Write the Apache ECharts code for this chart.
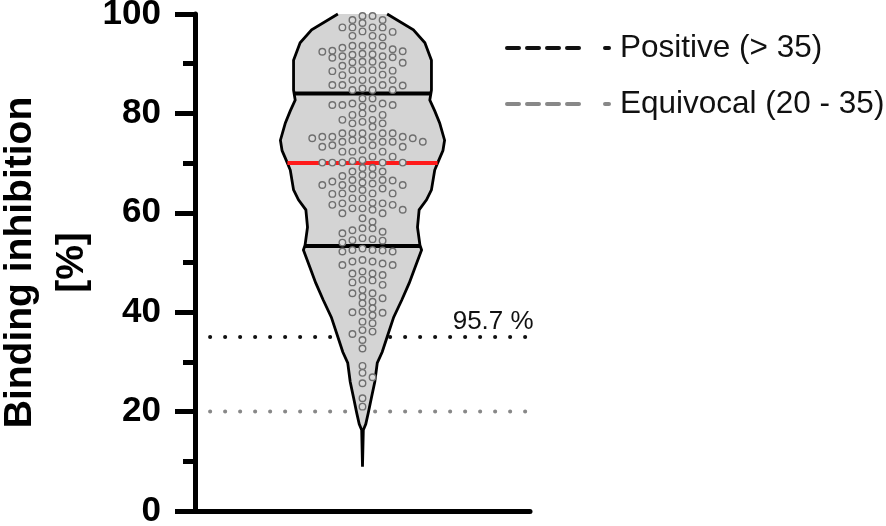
<!DOCTYPE html>
<html>
<head>
<meta charset="utf-8">
<script src="https://cdn.jsdelivr.net/npm/echarts@6/dist/echarts.min.js"></script>
<style>
  html, body { margin: 0; padding: 0; background: #fff; }
  #violin { width: 886px; height: 526px; }
</style>
</head>
<body>
<div id="violin"></div>
<script>
// binding inhibition per sample (%)
var inhibition = [
  99.6, 99.6, 98.8, 98.8, 98.2, 97.3, 97.3, 97.3, 97.3, 96.5, 96.4,
  95.6, 95.6, 95.3, 93.6, 93.6, 93.6, 93.6, 93.2, 92.9, 92.6, 92.5, 92.4,
  92.0, 91.9, 91.8, 91.5, 91.5, 91.3, 91.2, 90.4, 90.4, 90.3, 90.2, 89.7, 89.6,
  88.7, 88.7, 88.7, 88.6, 88.5, 87.8, 87.7, 86.7, 86.7, 86.7, 86.7,
  85.7, 85.7, 85.7, 85.6, 85.0, 84.7, 84.7, 84.7,
  83.0, 83.0, 82.0, 82.0, 81.7, 81.7, 81.7, 81.4, 81.0, 80.0, 79.7, 79.7,
  78.7, 78.7, 78.3, 78.0, 78.0, 77.3, 76.0, 76.0, 76.0, 76.0, 76.0,
  75.3, 75.3, 75.3, 75.3, 75.0, 75.0, 74.6, 74.6, 74.3, 74.3, 74.3, 74.3,
  73.6, 73.6, 73.3, 73.3, 72.6, 72.3, 72.3, 72.3, 71.3, 71.3,
  70.6, 70.4, 70.1, 70.1, 70.1, 70.1, 70.1, 69.0, 69.0, 68.3, 68.3,
  67.6, 67.6, 67.4, 66.6, 66.6, 66.5, 66.3, 66.1, 65.9, 65.6, 65.6, 65.6,
  64.9, 64.9, 64.6, 63.9, 63.9, 63.9, 63.8, 62.9, 62.9,
  62.0, 61.9, 61.9, 61.6, 61.6, 60.9, 60.9, 60.6, 60.6,
  59.9, 59.9, 58.9, 58.2, 56.9, 56.9, 56.5, 56.2, 55.9,
  54.9, 54.7, 54.5, 54.4, 54.0, 52.8, 52.5, 52.5, 52.4, 52.2, 52.2,
  50.5, 50.2, 50.2, 49.8, 49.5, 49.5, 48.2, 47.8, 47.8, 47.5,
  46.5, 46.4, 46.0, 45.5, 44.5, 43.8, 43.8, 43.1, 42.8, 42.1, 41.8,
  40.8, 40.1, 40.0, 39.9, 39.4, 38.1, 37.8, 36.4, 36.1,
  35.6, 34.4, 32.7, 29.2, 27.8, 26.9, 25.7, 22.7, 21.0
];

// violin outline: relative density at each level (1 = widest)
var violinLevels  = [100, 96.8, 94.2, 90.7, 87.5, 84.7, 82.7, 80.5, 78.1, 74.6, 72.5, 70.6, 68.6,
                     64.6, 62.6, 60.6, 57.1, 53.5, 52.5, 49, 45.9, 42.5, 39, 35, 32, 29.8, 26,
                     22.9, 19.7, 17.5, 16.3, 8.9];
var violinDensity = [0.30, 0.62, 0.76, 0.84, 0.84, 0.84, 0.82, 0.88, 0.94, 1.00, 0.98, 0.93, 0.88,
                     0.84, 0.78, 0.69, 0.67, 0.70, 0.72, 0.64, 0.57, 0.48, 0.38, 0.30, 0.24, 0.18, 0.15,
                     0.11, 0.07, 0.04, 0.01, 0];

var quartileLines = [53.3, 84.0];
var medianValue = 70.0;
var positiveCutoff = 35;
var equivocalCutoff = 20;
var positiveLabel = '95.7 %';
var seriesNames = ['Positive (> 35)', 'Equivocal (20 - 35)'];

var FONT = 'Liberation Sans, Arial, sans-serif';
var HALF_WIDTH = 0.49;   // widest half of the violin, x-axis units
var COL_STEP = 0.06;     // swarm column spacing
var ROW_GAP = 1.3;       // min vertical gap inside a column
var LEGEND_DASH = [12, 8, 12, 8, 12, 8, 12, 26, 4, 100];

function densityAt(v) {
  for (var i = 0; i < violinLevels.length - 1; i++) {
    var a = violinLevels[i], b = violinLevels[i + 1];
    if (v <= a && v >= b) {
      var t = (a - v) / (a - b);
      return violinDensity[i] + t * (violinDensity[i + 1] - violinDensity[i]);
    }
  }
  return 0;
}

// simple beeswarm: fill columns 0, +1, -1, +2, -2 ...
function swarm(values) {
  var cols = {}, out = [];
  values.slice().sort(function (a, b) { return b - a; }).forEach(function (v) {
    for (var k = 0; k < 60; k++) {
      var c = k === 0 ? 0 : (k % 2 ? (k + 1) / 2 : -k / 2);
      var col = cols[c] || (cols[c] = []);
      var free = col.every(function (u) { return Math.abs(u - v) >= ROW_GAP; });
      if (free) { col.push(v); out.push([c * COL_STEP, v]); break; }
    }
  });
  return out;
}

function renderViolin(params, api) {
  var right = [], left = [];
  violinLevels.forEach(function (lv, i) {
    var w = violinDensity[i] * HALF_WIDTH;
    right.push(api.coord([w, lv]));
    left.push(api.coord([-w, lv]));
  });
  // outline runs from top-right down to the tail and back up the left
  var outline = right.slice().concat(left.slice().reverse());
  var children = [
    { type: 'polygon', shape: { points: outline }, style: { fill: '#d4d4d4', stroke: null } },
    { type: 'polyline', shape: { points: outline }, style: { fill: null, stroke: '#000', lineWidth: 2.8 } }
  ];
  quartileLines.forEach(function (q) {
    var w = densityAt(q) * HALF_WIDTH;
    var p1 = api.coord([-w, q]), p2 = api.coord([w, q]);
    children.push({ type: 'line', shape: { x1: p1[0], y1: p1[1], x2: p2[0], y2: p2[1] },
      style: { stroke: '#000', lineWidth: 4 } });
  });
  var wm = densityAt(medianValue) * HALF_WIDTH;
  var m1 = api.coord([-wm, medianValue]), m2 = api.coord([wm, medianValue]);
  children.push({ type: 'line', shape: { x1: m1[0], y1: m1[1], x2: m2[0], y2: m2[1] },
    style: { stroke: '#ff1a1a', lineWidth: 4 } });
  return { type: 'group', children: children };
}

var chart = echarts.init(document.getElementById('violin'));
var xStart = -0.91, xEnd = 0.98;

chart.setOption({
  animation: false,
  backgroundColor: '#fff',
  grid: { left: 195, right: 356, top: 14, bottom: 15, containLabel: false, outerBoundsMode: 'none' },
  legend: {
    orient: 'vertical', left: 500, top: 27,
    itemWidth: 102, itemHeight: 10, itemGap: 24,
    textStyle: { fontSize: 31.5, color: '#111', fontFamily: FONT, padding: [0, 0, 0, 6] },
    data: [
      { name: seriesNames[0], itemStyle: { opacity: 0 },
        lineStyle: { color: '#111', width: 4, type: LEGEND_DASH } },
      { name: seriesNames[1], itemStyle: { opacity: 0 },
        lineStyle: { color: '#888', width: 4, type: LEGEND_DASH } }
    ]
  },
  xAxis: {
    type: 'value', min: -1, max: 1,
    axisLine: { show: true, onZero: false, lineStyle: { color: '#000', width: 5 } },
    axisTick: { show: false }, axisLabel: { show: false }, splitLine: { show: false }
  },
  yAxis: {
    type: 'value', min: 0, max: 100, interval: 20,
    axisLine: { show: true, onZero: false, lineStyle: { color: '#000', width: 5 } },
    axisTick: { show: true, length: 20, lineStyle: { color: '#000', width: 5 } },
    minorTick: { show: true, splitNumber: 2, length: 12, lineStyle: { color: '#000', width: 5 } },
    splitLine: { show: false },
    axisLabel: { fontSize: 35, fontWeight: 'bold', color: '#000', margin: 34, fontFamily: FONT },
    name: 'Binding inhibition\n[%]', nameLocation: 'middle', nameRotate: 90, nameGap: 96,
    nameTextStyle: { fontSize: 39, fontWeight: 'bold', color: '#000', lineHeight: 52, fontFamily: FONT }
  },
  series: [
    {
      name: seriesNames[0], type: 'line', symbol: 'none', z: 1,
      itemStyle: { color: '#111' },
      data: [[xStart, positiveCutoff], [xEnd, positiveCutoff]],
      lineStyle: { color: '#111', width: 4, type: [0.1, 14.9], cap: 'round' },
      markPoint: {
        symbol: 'circle', symbolSize: 0,
        data: [{ coord: [0.78, positiveCutoff] }],
        label: { show: true, position: 'top', distance: 2, formatter: positiveLabel,
                 fontSize: 26, color: '#111', fontFamily: FONT }
      }
    },
    {
      name: seriesNames[1], type: 'line', symbol: 'none', z: 1,
      itemStyle: { color: '#888' },
      data: [[xStart, equivocalCutoff], [xEnd, equivocalCutoff]],
      lineStyle: { color: '#888', width: 4, type: [0.1, 14.9], cap: 'round' }
    },
    {
      type: 'custom', z: 3, silent: true,
      data: [[0, 0]],
      renderItem: renderViolin
    },
    {
      type: 'scatter', z: 4, silent: true,
      symbol: 'circle', symbolSize: 6.5,
      data: swarm(inhibition),
      itemStyle: { color: '#dadada', borderColor: '#6f6f6f', borderWidth: 1.4, opacity: 1 }
    }
  ]
});
</script>
</body>
</html>
